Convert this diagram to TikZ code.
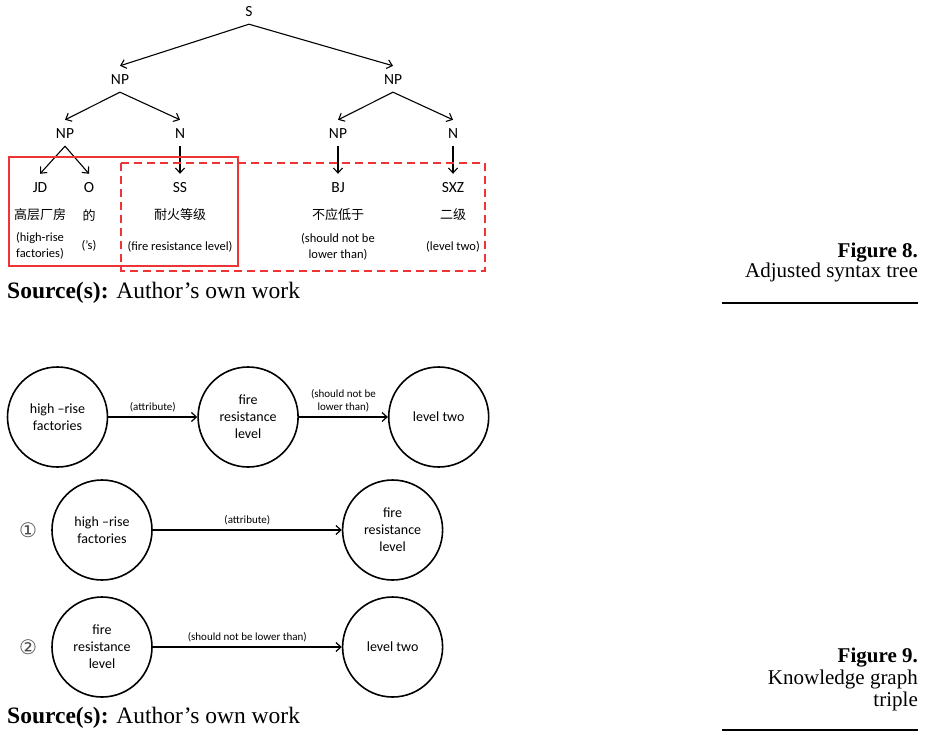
\documentclass[tikz,border=0pt]{standalone}
\usepackage{fontspec}
\setmainfont{Liberation Serif}
\newfontfamily\diagfont{Carlito}
\newfontfamily\cjkfont{Noto Sans CJK SC}
\newfontfamily\circfont{DejaVu Sans}
\usetikzlibrary{arrows.meta,positioning}
\definecolor{boxred}{RGB}{238,52,52}
\tikzset{
  treelabel/.style={font=\diagfont\fontsize{15.5}{15.5}\selectfont, text height=10pt,
    text depth=0pt, inner ysep=8pt, inner xsep=2pt},
  cjkword/.style={font=\cjkfont\fontsize{13}{13}\selectfont, inner sep=0pt},
  glossnote/.style={font=\diagfont\fontsize{12.5}{16}\selectfont, align=center, inner sep=0pt},
  treearrow/.style={-{Straight Barb[length=5pt,width=9pt]}, line width=1.1pt},
  kgcircle/.style={draw, circle, line width=1.6pt, minimum size=100pt, inner sep=0pt,
    align=center, font=\diagfont\fontsize{14}{17}\selectfont},
  kgarrow/.style={-{Straight Barb[length=5pt,width=9pt]}, line width=1.2pt},
  edgenote/.style={font=\diagfont\fontsize{11}{13}\selectfont, align=center, above=1pt, midway},
  stepmark/.style={font=\circfont\fontsize{20}{20}\selectfont, text=black!70},
  captext/.style={anchor=base east, font=\fontsize{21}{21}\selectfont, inner sep=0pt},
  sourceline/.style={anchor=base west, font=\fontsize{23.5}{24}\selectfont, inner sep=0pt}
}

\begin{document}
\begin{tikzpicture}[x=1pt, y=-1pt]
    \useasboundingbox (0,0) rectangle (925,739);
    % syntax tree
    \node[treelabel] (s) at (249,11) {S};
    \node[treelabel] (npL) at (120,79) {NP};
    \node[treelabel] (npR) at (393,79) {NP};
    \node[treelabel] (npLL) at (65,133) {NP};
    \node[treelabel] (nL) at (180,133) {N};
    \node[treelabel] (npRL) at (338,133) {NP};
    \node[treelabel] (nR) at (453,133) {N};
    \node[treelabel] (jd) at (40,187) {JD};
    \node[treelabel] (o) at (89,187) {O};
    \node[treelabel] (ss) at (180,187) {SS};
    \node[treelabel] (bj) at (338,187) {BJ};
    \node[treelabel] (sxz) at (453,187) {SXZ};
    \node[cjkword] (jdzh) at (40,215) {高层厂房};
    \node[cjkword] (ozh) at (89,215) {的};
    \node[cjkword] (sszh) at (180,215) {耐火等级};
    \node[cjkword] (bjzh) at (338,215) {不应低于};
    \node[cjkword] (sxzzh) at (453,215) {二级};
    \node[glossnote] (jdgl) at (40,246) {(high-rise\\factories)};
    \node[glossnote] (ogl) at (89,246) {(’s)};
    \node[glossnote] (ssgl) at (180,247) {(fire resistance level)};
    \node[glossnote] (bjgl) at (338,247) {(should not be\\lower than)};
    \node[glossnote] (sxzgl) at (453,247) {(level two)};
    \draw[treearrow] (s.south) -- (npL.north);
    \draw[treearrow] (s.south) -- (npR.north);
    \draw[treearrow] (npL.south) -- (npLL.north);
    \draw[treearrow] (npL.south) -- (nL.north);
    \draw[treearrow] (npR.south) -- (npRL.north);
    \draw[treearrow] (npR.south) -- (nR.north);
    \draw[treearrow] (npLL.south) -- (jd.north);
    \draw[treearrow] (npLL.south) -- (o.north);
    \draw[treearrow] (nL.south) -- (ss.north);
    \draw[treearrow] (npRL.south) -- (bj.north);
    \draw[treearrow] (nR.south) -- (sxz.north);
    \draw[boxred, line width=1.3pt] (9,157) rectangle (238,266);
    \draw[boxred, line width=1.3pt, dash pattern=on 8pt off 5pt] (121,163) rectangle (485,271);
    \node[sourceline] (src8) at (7,298) {\textbf{Source(s):} Author’s own work};
    \node[captext] (fig8) at (918,257) {\textbf{Figure 8.}};
    \node[captext] (cap8) at (918,277) {Adjusted syntax tree};
    \draw[line width=2.4pt] (722,303) -- (918,303);
    % knowledge graph
    \node[kgcircle] (hr) at (57.5,417) {high –rise\\factories};
    \node[kgcircle, right=89pt of hr] (frl) {fire\\resistance\\level};
    \node[kgcircle, right=89pt of frl] (lt) {level two};
    \draw[kgarrow] (hr) -- (frl) node[edgenote] {(attribute)};
    \draw[kgarrow] (frl) -- (lt) node[edgenote] {(should not be\\lower than)};
    \node[stepmark] (one) at (28,530) {①};
    \node[kgcircle] (hrA) at (102,530) {high –rise\\factories};
    \node[kgcircle, right=189pt of hrA] (frlA) {fire\\resistance\\level};
    \draw[kgarrow] (hrA) -- (frlA) node[edgenote] {(attribute)};
    \node[stepmark] (two) at (28,647) {②};
    \node[kgcircle] (frlB) at (102,647) {fire\\resistance\\level};
    \node[kgcircle, right=189pt of frlB] (ltB) {level two};
    \draw[kgarrow] (frlB) -- (ltB) node[edgenote] {(should not be lower than)};
    \node[sourceline] (src9) at (7,723) {\textbf{Source(s):} Author’s own work};
    \node[captext] (fig9) at (918,662) {\textbf{Figure 9.}};
    \node[captext] (cap9a) at (918,684) {Knowledge graph};
    \node[captext] (cap9b) at (918,706) {triple};
    \draw[line width=2.4pt] (722,730) -- (918,730);
\end{tikzpicture}
\end{document}
